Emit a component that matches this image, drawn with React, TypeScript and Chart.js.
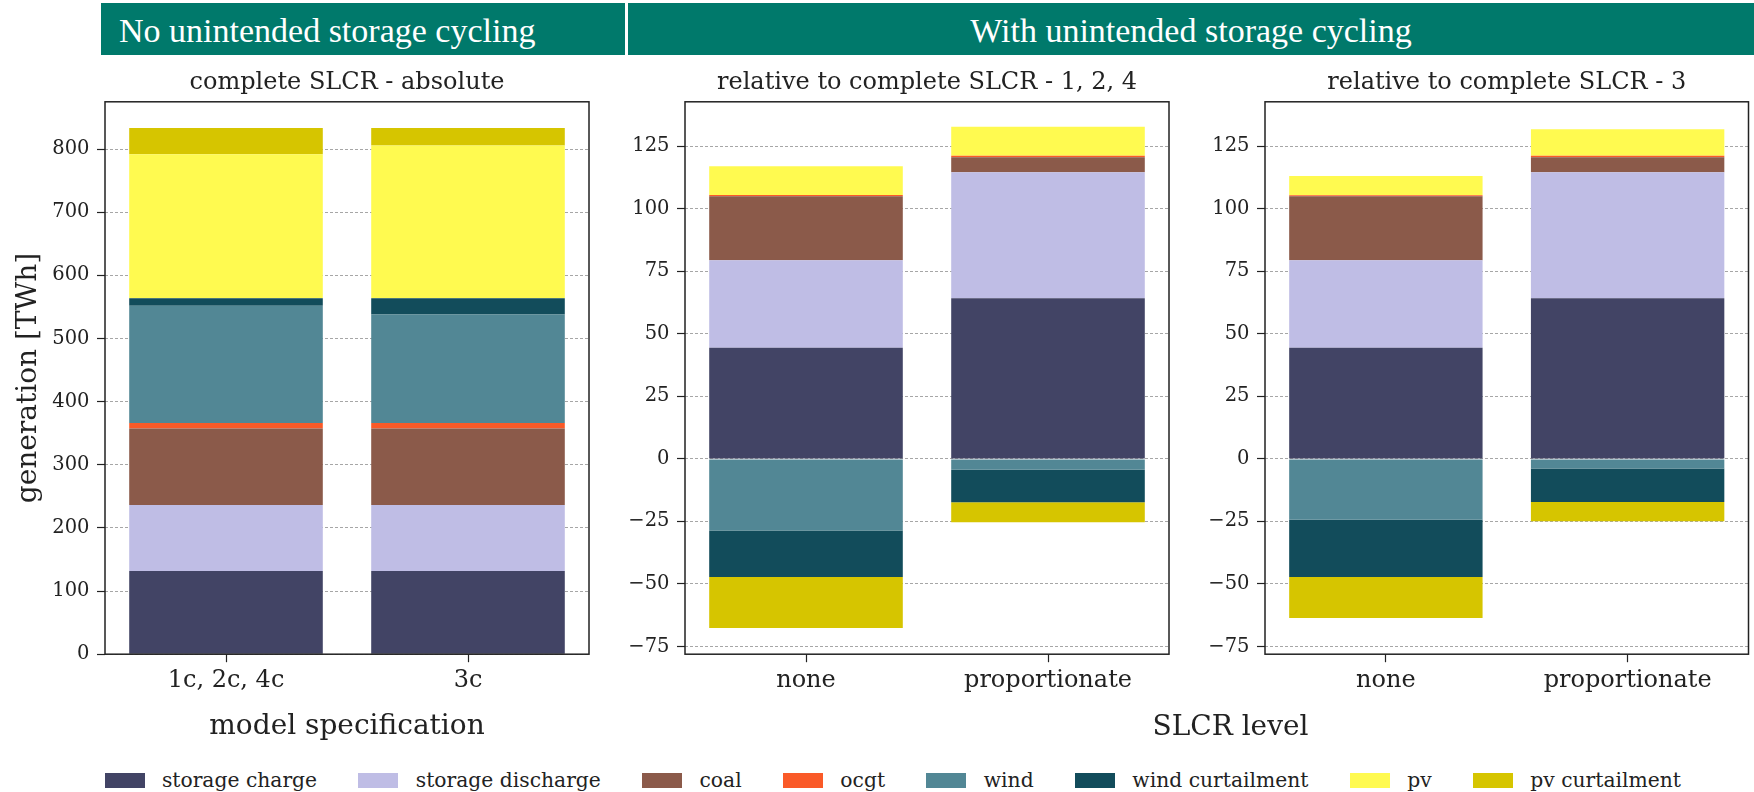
import React, { useEffect, useRef } from "react";
import { Chart, registerables } from "chart.js";

Chart.register(...registerables);

// ---------- data ----------
const seriesNames = [
  "storage charge",
  "storage discharge",
  "coal",
  "ocgt",
  "wind",
  "wind curtailment",
  "pv",
  "pv curtailment",
];
const seriesColors = [
  "#424465",
  "#bfbde5",
  "#8b5a4a",
  "#fa5a28",
  "#528795",
  "#124c5b",
  "#fffa50",
  "#d6c500",
];

const specCategories = ["1c, 2c, 4c", "3c"];
const slcrCategories = ["none", "proportionate"];

// panel 1: complete SLCR - absolute (TWh)
const absStorageCharge = [131.9, 131.9];
const absStorageDischarge = [104.3, 104.3];
const absCoal = [121.3, 121.3];
const absOcgt = [8.8, 8.8];
const absWind = [185.8, 171.7];
const absWindCurtailment = [11.7, 25.8];
const absPv = [228.0, 242.1];
const absPvCurtailment = [41.6, 27.5];

// panel 2: relative to complete SLCR - 1, 2, 4
const rel124StorageCharge = [44.4, 64.2];
const rel124StorageDischarge = [35.0, 50.4];
const rel124Coal = [25.6, 6.0];
const rel124Ocgt = [0.5, 0.6];
const rel124Wind = [-28.6, -4.3];
const rel124WindCurtailment = [-18.6, -13.0];
const rel124Pv = [11.5, 11.6];
const rel124PvCurtailment = [-20.4, -8.0];

// panel 3: relative to complete SLCR - 3
const rel3StorageCharge = [44.4, 64.2];
const rel3StorageDischarge = [35.0, 50.4];
const rel3Coal = [25.6, 6.0];
const rel3Ocgt = [0.4, 0.6];
const rel3Wind = [-24.3, -3.8];
const rel3WindCurtailment = [-22.9, -13.4];
const rel3Pv = [7.7, 10.6];
const rel3PvCurtailment = [-16.4, -7.7];

const absTicks = [0, 100, 200, 300, 400, 500, 600, 700, 800];
const relTicks = [-75, -50, -25, 0, 25, 50, 75, 100, 125];
const absRange = [0, 875];
const relRange = [-78.1, 142.8];

// ---------- styling ----------
const FONT = "'DejaVu Serif', serif";
const TEXT = "#222";

const framePlugin = {
  id: "frame",
  afterDraw(chart: any) {
    const { ctx, chartArea } = chart;
    const { left, top, right, bottom } = chartArea;
    ctx.save();
    ctx.strokeStyle = "#222";
    ctx.lineWidth = 1.5;
    ctx.strokeRect(left, top, right - left, bottom - top);
    ctx.restore();
  },
};

function fmtTick(v: number) {
  return v < 0 ? "\u2212" + Math.abs(v) : String(v);
}

type PanelProps = {
  left: number;
  top: number;
  width: number;
  height: number;
  categories: string[];
  values: number[][];
  title: string;
  range: number[];
  ticks: number[];
  yWidth: number;
  padRight: number;
  xTitle?: string;
  yTitle?: string;
};

function Panel(p: PanelProps) {
  const ref = useRef<HTMLCanvasElement | null>(null);
  useEffect(() => {
    if (!ref.current) return;
    const chart = new Chart(ref.current, {
      type: "bar",
      data: {
        labels: p.categories,
        datasets: seriesNames.map((name, i) => ({
          label: name,
          data: p.values[i],
          backgroundColor: seriesColors[i],
          borderWidth: 0,
          categoryPercentage: 1.0,
          barPercentage: 0.8,
        })),
      },
      options: {
        animation: false,
        responsive: false,
        maintainAspectRatio: false,
        layout: { padding: { left: 0, right: p.padRight, top: 0, bottom: 0 } },
        plugins: {
          legend: { display: false },
          tooltip: { enabled: false },
          title: {
            display: true,
            text: p.title,
            fullSize: false,
            color: TEXT,
            font: { family: FONT, size: 24, weight: "normal" },
            padding: { top: 8.6, bottom: 4.4 },
          },
        },
        scales: {
          x: {
            stacked: true,
            offset: true,
            grid: {
              display: true,
              drawOnChartArea: false,
              drawTicks: true,
              offset: false,
              tickLength: 8,
              tickColor: "#222",
              tickWidth: 1.2,
            },
            border: { display: false },
            ticks: {
              color: TEXT,
              font: { family: FONT, size: 24 },
              padding: 4,
              maxRotation: 0,
              autoSkip: false,
            },
            title: {
              display: !!p.xTitle,
              text: p.xTitle || "",
              color: TEXT,
              font: { family: FONT, size: 28 },
              padding: { top: 0, bottom: 16.2 },
            },
            afterFit: (scale: any) => {
              scale.height = 105.8;
            },
          },
          y: {
            stacked: true,
            min: p.range[0],
            max: p.range[1],
            afterBuildTicks: (scale: any) => {
              scale.ticks = p.ticks.map((v) => ({ value: v }));
            },
            grid: {
              display: true,
              drawOnChartArea: true,
              drawTicks: true,
              color: "rgba(0,0,0,0.35)",
              lineWidth: 1,
              tickLength: 8,
              tickColor: "#222",
              tickWidth: 1.2,
              tickBorderDash: [],
            },
            border: { display: false, dash: [3, 2] },
            ticks: {
              color: TEXT,
              font: { family: FONT, size: 19.5 },
              padding: 7.5,
              callback: (v: any) => fmtTick(Number(v)),
            },
            title: {
              display: !!p.yTitle,
              text: p.yTitle || "",
              color: TEXT,
              font: { family: FONT, size: 28 },
              padding: { top: 12, bottom: 0 },
            },
            afterFit: (scale: any) => {
              scale.width = p.yWidth;
            },
          },
        },
      },
      plugins: [framePlugin],
    } as any);
    return () => chart.destroy();
  }, []);
  return (
    <canvas
      ref={ref}
      width={p.width}
      height={p.height}
      style={{
        position: "absolute",
        left: p.left,
        top: p.top,
        width: p.width,
        height: p.height,
      }}
    />
  );
}

const bannerStyle: React.CSSProperties = {
  position: "absolute",
  top: 3,
  height: 52,
  background: "#00796b",
  color: "#ffffff",
  fontFamily: "'Liberation Serif', serif",
  fontSize: 34,
  lineHeight: "52px",
  boxSizing: "border-box",
  paddingTop: 2,
  whiteSpace: "nowrap",
};

export default function App() {
  const absValues = [
    absStorageCharge,
    absStorageDischarge,
    absCoal,
    absOcgt,
    absWind,
    absWindCurtailment,
    absPv,
    absPvCurtailment,
  ];
  const rel124Values = [
    rel124StorageCharge,
    rel124StorageDischarge,
    rel124Coal,
    rel124Ocgt,
    rel124Wind,
    rel124WindCurtailment,
    rel124Pv,
    rel124PvCurtailment,
  ];
  const rel3Values = [
    rel3StorageCharge,
    rel3StorageDischarge,
    rel3Coal,
    rel3Ocgt,
    rel3Wind,
    rel3WindCurtailment,
    rel3Pv,
    rel3PvCurtailment,
  ];
  return (
    <div
      style={{
        position: "absolute",
        left: 0,
        top: 0,
        width: 1754,
        height: 792,
        background: "#fff",
        overflow: "hidden",
      }}
    >
      <div style={{ ...bannerStyle, left: 100.5, width: 524, paddingLeft: 18.5 }}>
        No unintended storage cycling
      </div>
      <div style={{ ...bannerStyle, left: 628, width: 1126, textAlign: "center" }}>
        With unintended storage cycling
      </div>

      <Panel
        left={0}
        top={60}
        width={600}
        height={700}
        categories={specCategories}
        values={absValues}
        title="complete SLCR - absolute"
        range={absRange}
        ticks={absTicks}
        yWidth={105}
        padRight={11}
        xTitle="model specification"
        yTitle="generation [TWh]"
      />
      <Panel
        left={600}
        top={60}
        width={580}
        height={700}
        categories={slcrCategories}
        values={rel124Values}
        title="relative to complete SLCR - 1, 2, 4"
        range={relRange}
        ticks={relTicks}
        yWidth={85}
        padRight={11}
      />
      <Panel
        left={1180}
        top={60}
        width={574}
        height={700}
        categories={slcrCategories}
        values={rel3Values}
        title="relative to complete SLCR - 3"
        range={relRange}
        ticks={relTicks}
        yWidth={85}
        padRight={5.5}
      />

      <div
        style={{
          position: "absolute",
          left: 1030.5,
          width: 400,
          top: 709,
          textAlign: "center",
          fontFamily: FONT,
          fontSize: 28,
          lineHeight: "34px",
          color: TEXT,
          whiteSpace: "nowrap",
        }}
      >
        SLCR level
      </div>

      <div
        style={{
          position: "absolute",
          left: 104.5,
          top: 766,
          height: 28,
          display: "flex",
          alignItems: "center",
          fontFamily: FONT,
          fontSize: 20.3,
          color: TEXT,
          whiteSpace: "nowrap",
        }}
      >
        {seriesNames.map((name, i) => (
          <div
            key={name}
            style={{
              display: "flex",
              alignItems: "center",
              marginRight: i < seriesNames.length - 1 ? 41.3 : 0,
            }}
          >
            <span
              style={{
                display: "inline-block",
                width: 40,
                height: 15,
                background: seriesColors[i],
                marginRight: 17.4,
              }}
            />
            <span>{name}</span>
          </div>
        ))}
      </div>
    </div>
  );
}
